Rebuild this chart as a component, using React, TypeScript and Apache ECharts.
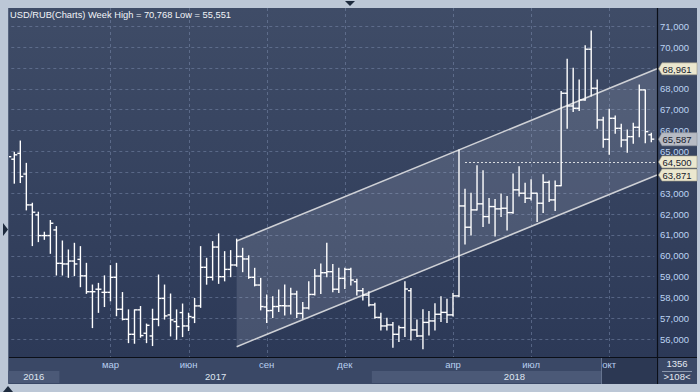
import React, { useEffect, useRef } from 'react';
import * as echarts from 'echarts';

// ---------- data ----------
const firstWeek = '2016-11-04'; // weekly bars (Fridays)
const weekCount = 108;

const opens = [
  64.85, 64.63, 64.91, 63.92, 62.44, 61.96, 60.97, 60.97, 61.24, 59.64,
  59.61, 59.75, 59.83, 59.04, 58.28, 58.4, 58.25, 58.25, 58.97, 57.44,
  56.96, 56.24, 57.41, 56.29, 56.16, 56.96, 57.96, 57.17, 56.85, 57.28,
  56.64, 57.05, 57.6, 59.45, 58.97, 60.42, 59.0, 59.35, 59.56, 59.97,
  59.85, 58.97, 58.6, 57.55, 57.38, 57.57, 57.61, 57.6, 58.17, 57.24,
  57.5, 58.15, 59.03, 59.19, 59.24, 58.4, 58.92, 59.35, 58.76, 58.33,
  58.12, 57.65, 57.05, 56.64, 56.69, 56.24, 56.56, 58.33, 56.45, 56.16,
  56.81, 56.88, 57.2, 57.29, 57.17, 58.08, 62.39, 61.37, 62.2, 62.49,
  61.88, 62.36, 62.25, 62.28, 62.07, 63.16, 63.0, 62.76, 63.0, 62.52,
  63.52, 62.68, 63.36, 67.79, 67.18, 67.07, 67.47, 69.9, 68.03, 66.51,
  65.58, 66.59, 66.11, 65.55, 65.71, 66.16, 67.95, 65.8,
];
const highs = [
  64.95, 64.96, 65.5, 64.43, 62.52, 62.09, 61.13, 61.69, 61.4, 60.71,
  60.28, 60.6, 60.44, 59.64, 58.6, 58.68, 59.04, 59.53, 59.64, 58.24,
  57.41, 57.41, 57.57, 56.73, 57.44, 59.08, 58.6, 58.17, 57.41, 57.69,
  57.25, 57.96, 60.44, 59.88, 60.68, 61.05, 60.2, 60.25, 60.8, 60.36,
  60.0, 59.4, 58.92, 58.12, 58.04, 58.36, 58.6, 58.45, 58.3, 57.76,
  58.76, 59.35, 59.61, 60.6, 59.59, 59.4, 59.4, 59.4, 58.88, 58.44,
  58.28, 57.73, 57.25, 57.01, 56.8, 56.64, 58.76, 58.44, 56.93, 57.41,
  57.33, 57.7, 58.04, 57.92, 58.2, 65.07, 63.19, 63.0, 64.31, 64.08,
  62.75, 62.7, 62.96, 62.84, 63.92, 64.27, 63.48, 63.64, 63.0, 63.88,
  63.59, 63.59, 67.87, 69.42, 68.99, 68.43, 70.06, 70.77, 68.43, 66.64,
  67.02, 66.7, 66.3, 66.03, 66.35, 68.19, 67.95, 65.87,
];
const lows = [
  64.6, 63.48, 63.51, 62.2, 60.49, 60.68, 60.79, 60.12, 59.08, 59.08,
  58.97, 59.05, 58.52, 58.2, 56.56, 57.29, 57.57, 57.84, 57.13, 56.93,
  55.84, 55.81, 56.1, 55.84, 55.7, 56.65, 56.97, 56.16, 56.0, 56.13,
  56.42, 56.8, 57.53, 58.64, 58.84, 58.68, 58.8, 59.0, 59.5, 59.24,
  58.92, 58.56, 57.41, 56.8, 57.05, 57.33, 57.17, 57.21, 57.05, 57.01,
  57.45, 58.12, 58.2, 59.0, 58.28, 58.24, 58.44, 58.6, 58.12, 57.88,
  57.6, 57.01, 56.45, 56.45, 55.62, 55.89, 56.13, 55.97, 56.13, 55.55,
  56.21, 56.45, 56.85, 56.8, 57.12, 58.04, 60.57, 61.0, 62.2, 61.4,
  61.56, 60.95, 61.88, 61.24, 62.04, 62.87, 62.55, 62.68, 61.64, 62.07,
  62.6, 62.17, 63.36, 66.11, 66.91, 66.96, 67.45, 67.66, 66.11, 65.2,
  64.87, 65.87, 65.23, 64.96, 65.39, 65.71, 65.42, 65.46,
];
const closes = [
  64.75, 64.84, 63.8, 62.44, 62.09, 60.97, 60.97, 61.56, 59.64, 59.61,
  59.75, 59.61, 59.04, 58.28, 58.28, 58.4, 58.25, 58.97, 57.44, 56.96,
  56.24, 57.41, 56.18, 56.67, 56.96, 57.96, 57.12, 56.93, 56.61, 56.64,
  57.09, 57.6, 59.45, 58.97, 60.42, 59.0, 59.35, 59.56, 59.97, 59.85,
  58.97, 58.6, 57.57, 57.37, 57.57, 57.61, 57.6, 58.17, 57.24, 57.5,
  58.15, 59.03, 59.19, 59.24, 58.4, 58.92, 59.35, 58.84, 58.33, 58.12,
  57.65, 57.05, 56.64, 56.69, 56.24, 56.56, 58.41, 56.45, 56.16, 56.81,
  56.88, 57.2, 57.29, 57.17, 58.08, 62.39, 61.37, 62.2, 62.49, 61.88,
  62.36, 62.25, 62.28, 62.07, 63.16, 63.0, 62.76, 63.0, 62.52, 63.52,
  62.68, 63.36, 67.79, 67.18, 67.07, 67.47, 69.9, 68.03, 66.51, 65.58,
  66.59, 66.11, 65.55, 65.71, 66.16, 67.95, 65.95, 65.59,
];

// axis ticks
const yTickMin = 55;
const yTickMax = 72;
const yTickStep = 1;
const monthTickDates = ['2017-03-03', '2017-06-02', '2017-09-01', '2017-12-01', '2018-04-06', '2018-07-06', '2018-10-05'];
const monthTickLabels = ['мар', 'июн', 'сен', 'дек', 'апр', 'июл', 'окт'];
const yearLabels = ['2016', '2017', '2018'];

// drawing objects
const channelStartIndex = 38;
const channelUpper = [60.71, 68.961]; // at start bar, at right edge
const channelLower = [55.645, 63.871];
const levelStartIndex = 76;
const levelValue = 64.5;
const tagValues = [68.961, 63.871, 64.5, 65.587];
const tagIsPrice = [false, false, false, true];

const titleText = 'USD/RUB(Charts) Week High = 70,768 Low = 55,551';
const infoTop = '1356';
const infoBottom = '>108<';

// ---------- helpers ----------
function buildDates(): string[] {
  const out: string[] = [];
  const d0 = new Date(firstWeek + 'T00:00:00Z').getTime();
  for (let i = 0; i < weekCount; i++) {
    const d = new Date(d0 + i * 7 * 86400000);
    out.push(d.toISOString().slice(0, 10));
  }
  return out;
}
const dates = buildDates();

const FONT = 'Liberation Sans, Arial, sans-serif';
const FRAME = '#bcc7d6';
const PLOT_L = 8;
const PLOT_R = 657;
const PLOT_T = 8;
const PLOT_B = 357;
const fmt = (v: number) => v.toFixed(3).replace('.', ',');
// labels fully hidden behind a tag in the reference
const hiddenByTag = (v: number) => tagValues.some((t, i) => !tagIsPrice[i] && Math.abs(t - v) < 0.2);

export default function App() {
  const ref = useRef<HTMLDivElement>(null);

  useEffect(() => {
    document.body.style.margin = '0';
    if (!ref.current) return;
    const chart = echarts.init(ref.current, undefined, { renderer: 'svg' });

    const ohlcData = dates.map((d, i) => [i, opens[i], highs[i], lows[i], closes[i]]);
    const monthIdx = monthTickDates.map((d) => dates.indexOf(d));
    const yearData = yearLabels.map((y, i) => {
      const idx = dates.map((d, j) => (d.startsWith(y) ? j : -1)).filter((j) => j >= 0);
      return [idx[0], idx[idx.length - 1], i];
    });

    const grad = new echarts.graphic.LinearGradient(0, 0, 0, 1, [
      { offset: 0, color: '#3f4c67' },
      { offset: 1, color: '#2c3957' },
    ]);

    const option: any = {
      animation: false,
      backgroundColor: FRAME,
      grid: { left: 5.3, right: 45.7, top: 5.38, bottom: 31.83, containLabel: false },
      xAxis: {
        type: 'category',
        data: dates,
        boundaryGap: true,
        z: 10,
        axisLine: { show: false },
        axisTick: { show: false },
        splitLine: { show: false },
        axisLabel: {
          interval: (i: number, v: string) => monthTickDates.indexOf(v) >= 0,
          formatter: (v: string) => monthTickLabels[monthTickDates.indexOf(v)] || '',
          color: '#b8cff0',
          fontSize: 9.5,
          fontFamily: FONT,
          margin: -1,
        },
      },
      yAxis: {
        type: 'value',
        position: 'right',
        offset: 2.7,
        min: yTickMin,
        max: yTickMax,
        interval: yTickStep,
        axisLine: { show: false },
        axisTick: { show: false },
        splitLine: { show: true, lineStyle: { type: [3, 3], color: 'rgba(125,142,175,0.5)', width: 1 } },
        axisLabel: {
          margin: 3,
          color: '#bcd3f2',
          fontSize: 9.5,
          fontFamily: FONT,
          formatter: (v: number) => (v <= yTickMin || v >= yTickMax || hiddenByTag(v) ? '' : fmt(v)),
        },
      },
      series: [
        {
          type: 'custom',
          name: 'monthGrid',
          z: 1,
          silent: true,
          data: monthIdx.map((i) => [i]),
          encode: { x: 0 },
          renderItem: (params: any, api: any) => {
            const x = Math.round(api.coord([api.value(0), 60])[0]) + 0.5;
            return {
              type: 'line',
              shape: { x1: x, y1: PLOT_T, x2: x, y2: PLOT_B },
              style: { stroke: 'rgba(125,142,175,0.5)', lineWidth: 1, lineDash: [3, 3] },
            };
          },
        },
        {
          type: 'custom',
          name: 'channel',
          z: 1.5,
          silent: true,
          data: [[channelStartIndex, channelUpper[0], channelLower[0]]],
          encode: { x: 0, y: [1, 2] },
          renderItem: (params: any, api: any) => {
            const k = api.value(0);
            const u0 = api.coord([k, channelUpper[0]]);
            const l0 = api.coord([k, channelLower[0]]);
            const u1 = [PLOT_R, api.coord([k, channelUpper[1]])[1]];
            const l1 = [PLOT_R, api.coord([k, channelLower[1]])[1]];
            const lv0 = api.coord([levelStartIndex, levelValue]);
            const ly = Math.round(lv0[1]) + 0.5;
            const lineStyle = { stroke: '#cfd1d6', lineWidth: 1.5 };
            return {
              type: 'group',
              children: [
                { type: 'polygon', shape: { points: [u0, u1, l1, l0] }, style: { fill: 'rgba(200,210,228,0.17)' } },
                { type: 'line', shape: { x1: u0[0], y1: u0[1], x2: u1[0], y2: u1[1] }, style: lineStyle },
                { type: 'line', shape: { x1: l0[0], y1: l0[1], x2: l1[0], y2: l1[1] }, style: lineStyle },
                {
                  type: 'line',
                  shape: { x1: lv0[0], y1: ly, x2: PLOT_R, y2: ly },
                  style: { stroke: '#d8dbe0', lineWidth: 1, lineDash: [2, 2] },
                },
              ],
            };
          },
        },
        {
          type: 'custom',
          name: 'USD/RUB',
          z: 2,
          silent: true,
          data: ohlcData,
          encode: { x: 0, y: [1, 2, 3, 4] },
          renderItem: (params: any, api: any) => {
            const k = api.value(0);
            const o = api.coord([k, api.value(1)]);
            const h = api.coord([k, api.value(2)]);
            const l = api.coord([k, api.value(3)]);
            const c = api.coord([k, api.value(4)]);
            const half = api.size([1, 0])[0] / 2;
            const x = o[0];
            const st = { stroke: '#ffffff', lineWidth: 1.4 };
            return {
              type: 'group',
              children: [
                { type: 'line', shape: { x1: x, y1: h[1] - 0.5, x2: x, y2: l[1] + 0.5 }, style: st },
                { type: 'line', shape: { x1: x - half, y1: o[1], x2: x, y2: o[1] }, style: st },
                { type: 'line', shape: { x1: x, y1: c[1], x2: x + half, y2: c[1] }, style: st },
              ],
            };
          },
        },
        {
          type: 'custom',
          name: 'years',
          z: 8,
          silent: true,
          data: yearData,
          encode: { x: [0, 1] },
          renderItem: (params: any, api: any) => {
            const half = api.size([1, 0])[0] / 2;
            const i = api.value(2);
            let x0 = api.coord([api.value(0), 60])[0] - half;
            let x1 = api.coord([api.value(1), 60])[0] + half;
            x0 = Math.max(PLOT_L, x0);
            x1 = i === yearLabels.length - 1 ? PLOT_R : Math.min(PLOT_R, x1);
            const children: any[] = [];
            if (i % 2 === 0) {
              children.push({ type: 'rect', shape: { x: x0, y: 371, width: x1 - x0, height: 12 }, style: { fill: '#4b5977' } });
            }
            children.push({
              type: 'text',
              x: (x0 + x1) / 2,
              y: 371,
              style: { text: yearLabels[i], fill: '#dfe6f0', font: `9.5px ${FONT}`, align: 'center', verticalAlign: 'top' },
            });
            return { type: 'group', children };
          },
        },
        {
          type: 'custom',
          name: 'tags',
          z: 20,
          silent: true,
          data: tagValues.map((v, i) => [0, v, i]),
          encode: { x: 0, y: 1 },
          renderItem: (params: any, api: any) => {
            const i = api.value(2);
            const v = api.value(1);
            const y = api.coord([0, v])[1];
            const price = tagIsPrice[i];
            const hh = price ? 6.5 : 6;
            const x0 = PLOT_R + 1.5;
            const pts = [
              [x0, y],
              [x0 + 3.5, y - hh],
              [697, y - hh],
              [697, y + hh],
              [x0 + 3.5, y + hh],
            ];
            return {
              type: 'group',
              children: [
                { type: 'polygon', shape: { points: pts }, style: { fill: price ? '#b7bbc4' : '#ebe7cf', stroke: price ? '#8e939c' : '#9d9a86', lineWidth: 0.6 } },
                {
                  type: 'text',
                  x: x0 + 4,
                  y: y + 0.5,
                  style: { text: fmt(v), fill: '#17202c', font: `9.5px ${FONT}`, align: 'left', verticalAlign: 'middle' },
                },
              ],
            };
          },
        },
      ],
      graphic: [
        // backgrounds
        { type: 'rect', z: -10, shape: { x: PLOT_L, y: PLOT_T, width: PLOT_R - PLOT_L, height: PLOT_B - PLOT_T }, style: { fill: grad } },
        { type: 'rect', z: -10, shape: { x: PLOT_R, y: PLOT_T, width: 697 - PLOT_R, height: PLOT_B - PLOT_T }, style: { fill: grad } },
        // frame strips
        { type: 'rect', z: 5, shape: { x: 0, y: 0, width: 700, height: PLOT_T }, style: { fill: FRAME } },
        { type: 'rect', z: 5, shape: { x: 0, y: 0, width: PLOT_L, height: 392 }, style: { fill: FRAME } },
        { type: 'rect', z: 5, shape: { x: 697, y: 0, width: 3, height: 392 }, style: { fill: FRAME } },
        { type: 'rect', z: 5, shape: { x: 0, y: 384, width: 700, height: 8 }, style: { fill: FRAME } },
        // bottom axis panel
        { type: 'rect', z: 5, shape: { x: PLOT_L, y: PLOT_B, width: 697 - PLOT_L, height: 384 - PLOT_B }, style: { fill: '#3a4866' } },
        { type: 'rect', z: 9, shape: { x: 601, y: 358, width: PLOT_R - 601, height: 26 }, style: { fill: '#2c3853' } },
        { type: 'line', z: 9, shape: { x1: 601.5, y1: 358, x2: 601.5, y2: 384 }, style: { stroke: '#65738f', lineWidth: 1 } },
        // separators
        { type: 'line', z: 6, shape: { x1: PLOT_L, y1: PLOT_B + 0.5, x2: 697, y2: PLOT_B + 0.5 }, style: { stroke: '#0b0f18', lineWidth: 1.2 } },
        { type: 'line', z: 6, shape: { x1: PLOT_R + 0.5, y1: PLOT_T, x2: PLOT_R + 0.5, y2: 384 }, style: { stroke: '#0b0f18', lineWidth: 1.2 } },
        { type: 'line', z: 6, shape: { x1: PLOT_L + 0.5, y1: PLOT_T, x2: PLOT_L + 0.5, y2: 384 }, style: { stroke: '#56647e', lineWidth: 1 } },
        // arrows in the frame
        { type: 'polygon', z: 6, shape: { points: [[345, 1], [355, 1], [350, 6]] }, style: { fill: '#1d2a3d' } },
        { type: 'polygon', z: 6, shape: { points: [[3, 223], [8, 229.5], [3, 236]] }, style: { fill: '#1d2a3d' } },
        { type: 'polygon', z: 6, shape: { points: [[3, 392], [8, 386], [13, 392]] }, style: { fill: '#1d2a3d' } },
        // info box
        { type: 'text', z: 7, x: 677, y: 358.5, style: { text: infoTop, fill: '#e4e9f1', font: `9.5px ${FONT}`, align: 'center', verticalAlign: 'top' } },
        { type: 'line', z: 7, shape: { x1: 662, y1: 371.5, x2: 692, y2: 371.5 }, style: { stroke: '#8a97ad', lineWidth: 1 } },
        { type: 'text', z: 7, x: 677, y: 371.5, style: { text: infoBottom, fill: '#e4e9f1', font: `9.5px ${FONT}`, align: 'center', verticalAlign: 'top' } },
        // title
        { type: 'text', z: 7, x: 10, y: 10, style: { text: titleText, fill: '#f2f4f8', font: `9.3px ${FONT}`, align: 'left', verticalAlign: 'top' } },
      ],
    };

    chart.setOption(option);
    return () => chart.dispose();
  }, []);

  return <div ref={ref} style={{ width: 700, height: 392 }} />;
}
